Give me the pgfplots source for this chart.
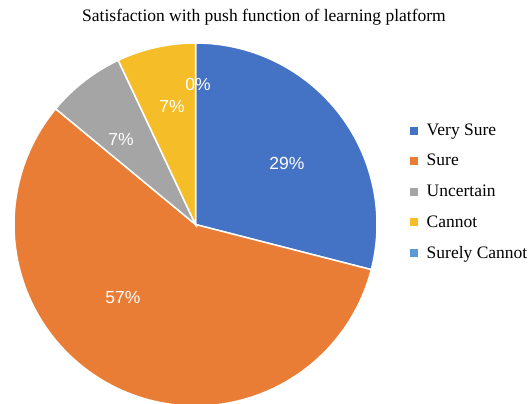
\documentclass[border=0pt]{standalone}
\usepackage{pgfplots}
\usepackage{pgfplotstable}
\pgfplotsset{compat=1.18}
\usepackage{fontspec}
\setmainfont{Liberation Serif}
\newfontfamily\arialf{Liberation Sans}
\definecolor{cVS}{HTML}{4472C4}
\definecolor{cS}{HTML}{EA7D35}
\definecolor{cU}{HTML}{A5A5A5}
\definecolor{cC}{HTML}{F5BD27}
\definecolor{cSC}{HTML}{5B9BD5}
\pgfplotstableread{
label value
VerySure 29
Sure 57
Uncertain 7
Cannot 7
SurelyCannot 0
}\piedata
\begin{document}
\begin{tikzpicture}
\pgfplotstablegetelem{0}{value}\of\piedata \let\vA\pgfplotsretval
\pgfplotstablegetelem{1}{value}\of\piedata \let\vB\pgfplotsretval
\pgfplotstablegetelem{2}{value}\of\piedata \let\vC\pgfplotsretval
\pgfplotstablegetelem{3}{value}\of\piedata \let\vD\pgfplotsretval
\pgfmathsetmacro\aA{90}
\pgfmathsetmacro\aB{\aA-3.6*\vA}
\pgfmathsetmacro\aC{\aB-3.6*\vB}
\pgfmathsetmacro\aD{\aC-3.6*\vC}
\pgfmathsetmacro\aE{\aD-3.6*\vD}
\def\cx{195.5}\def\cy{179.5}\def\rr{181.5}
\begin{axis}[
  hide axis, scale only axis, width=529bp, height=404bp,
  xmin=0, xmax=529, ymin=0, ymax=404, clip=true,
  legend style={at={(410/529,282/404)}, anchor=north west, draw=none, fill=none,
    font=\fontsize{17.5bp}{21bp}\selectfont, row sep=14.5bp, inner sep=0pt,
    nodes={inner sep=1.5bp},
    /tikz/every odd column/.append style={column sep=8bp}},
  legend cell align=left,
]
\addplot[fill=cVS, draw=white, line width=1.5bp, domain=\aB:\aA, samples=90, variable=\t, forget plot]
  ({\cx+\rr*cos(\t)},{\cy+\rr*sin(\t)}) -- (axis cs:\cx,\cy) -- cycle;
\addplot[fill=cS, draw=white, line width=1.5bp, domain=\aC:\aB, samples=150, variable=\t, forget plot]
  ({\cx+\rr*cos(\t)},{\cy+\rr*sin(\t)}) -- (axis cs:\cx,\cy) -- cycle;
\addplot[fill=cU, draw=white, line width=1.5bp, domain=\aD:\aC, samples=30, variable=\t, forget plot]
  ({\cx+\rr*cos(\t)},{\cy+\rr*sin(\t)}) -- (axis cs:\cx,\cy) -- cycle;
\addplot[fill=cC, draw=white, line width=1.5bp, domain=\aE:\aD, samples=30, variable=\t, forget plot]
  ({\cx+\rr*cos(\t)},{\cy+\rr*sin(\t)}) -- (axis cs:\cx,\cy) -- cycle;
\addlegendimage{only marks, mark=square*, mark size=3.5bp, mark options={draw=cVS, fill=cVS}}
\addlegendentry{Very Sure}
\addlegendimage{only marks, mark=square*, mark size=3.5bp, mark options={draw=cS, fill=cS}}
\addlegendentry{Sure}
\addlegendimage{only marks, mark=square*, mark size=3.5bp, mark options={draw=cU, fill=cU}}
\addlegendentry{Uncertain}
\addlegendimage{only marks, mark=square*, mark size=3.5bp, mark options={draw=cC, fill=cC}}
\addlegendentry{Cannot}
\addlegendimage{only marks, mark=square*, mark size=3.5bp, mark options={draw=cSC, fill=cSC}}
\addlegendentry{Surely Cannot}
\begin{scope}[every node/.style={text=white, font=\arialf\fontsize{17.5bp}{21bp}\selectfont}]
\node at (axis cs:287,241) {29\%};
\node at (axis cs:123,106) {57\%};
\node at (axis cs:121,265) {7\%};
\node at (axis cs:172,298) {7\%};
\node at (axis cs:198,320) {0\%};
\end{scope}
\node[font=\fontsize{17.5bp}{21bp}\selectfont] at (axis cs:264,387) {Satisfaction with push function of learning platform};
\end{axis}
\pgfresetboundingbox
\useasboundingbox (0,0) rectangle (529bp,404bp);
\end{tikzpicture}
\end{document}
